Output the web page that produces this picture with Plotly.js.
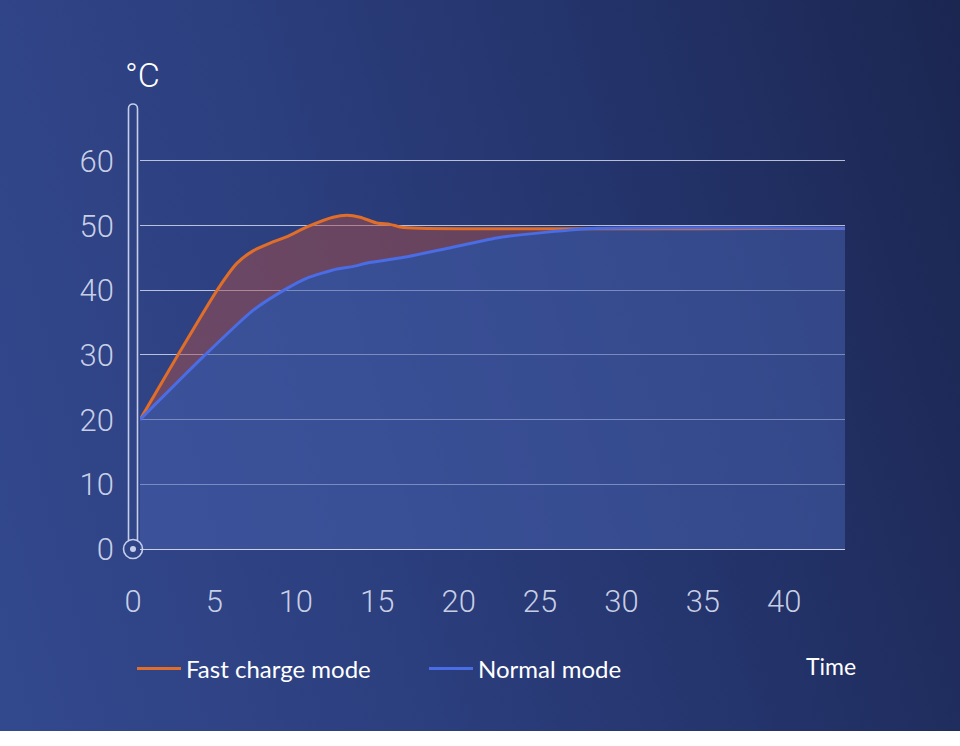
<!DOCTYPE html>
<html>
<head>
<meta charset="utf-8">
<script src="https://cdn.plot.ly/plotly-3.0.1.min.js"></script>
<style>
  html, body { margin: 0; padding: 0; background: #ffffff; }
  #bg { position: absolute; left: 0; top: 0; width: 960px; height: 731px;
        background: linear-gradient(75deg, #33498e 0%, #2c3f7f 35%, #24346c 65%, #1b2651 100%); }
  #chart { position: absolute; left: 0; top: 0; width: 960px; height: 746px; }
</style>
</head>
<body>
<div id="bg"></div>
<div id="chart"></div>
<script>
// ---- data ----
const timeFast   = [0, 2.33, 4.73, 5.96, 6.94, 7.99, 9.03, 10.26, 11.86, 12.72, 13.52, 14.56, 15.36, 15.98, 17.2, 43.3];
const tempFast   = [20, 30, 40, 44.2, 46.1, 47.3, 48.3, 49.8, 51.3, 51.6, 51.3, 50.4, 50.2, 49.8, 49.6, 49.6];
const timeNormal = [0, 3.87, 6.94, 9.03, 10.26, 12.1, 13.1, 14.1, 16.2, 18.9, 21.9, 25.0, 28.1, 43.3];
const tempNormal = [20, 29.7, 36.9, 40.3, 41.9, 43.3, 43.7, 44.3, 45.1, 46.5, 48.1, 49.0, 49.6, 49.6];
const xTicks = [0, 5, 10, 15, 20, 25, 30, 35, 40];
const yTicks = [0, 10, 20, 30, 40, 50, 60];
const seriesNames = ['Fast charge mode', 'Normal mode'];
const unitLabel = '°C';
const xLabel = 'Time';

// ---- layout geometry (pixels) ----
const L = 140, R = 115, T = 150, B = 197, W = 960, H = 746;
const PW = W - L - R, PH = H - T - B;
const X = p => (p - L) / PW;
const Y = p => (H - B - p) / PH;

const orange = '#e06e28', blue = '#4a6ce4';
const tickColor = 'rgba(210,216,236,0.95)';

const traces = [
  { x: timeNormal, y: tempNormal, type: 'scatter', mode: 'lines', fill: 'tozeroy',
    fillcolor: 'rgba(70,95,172,0.55)', line: { width: 0, shape: 'spline', smoothing: 0.6 },
    showlegend: false, hoverinfo: 'skip' },
  { x: timeFast, y: tempFast, type: 'scatter', mode: 'lines', fill: 'tonexty',
    fillcolor: 'rgba(168,78,72,0.5)', line: { width: 0, shape: 'spline', smoothing: 0.6 },
    showlegend: false, hoverinfo: 'skip' },
  { x: timeFast, y: tempFast, type: 'scatter', mode: 'lines', name: seriesNames[0],
    line: { color: orange, width: 3, shape: 'spline', smoothing: 0.6 } },
  { x: timeNormal, y: tempNormal, type: 'scatter', mode: 'lines', name: seriesNames[1],
    line: { color: blue, width: 3, shape: 'spline', smoothing: 0.6 } }
];

const thermoColor = 'rgba(205,214,238,0.95)';
const tubeL = 128.5, tubeR = 137.5, tubeTop = 103.5, cx = 133, cy = 549, cr = 9.5;
const joinY = cy - Math.sqrt(cr * cr - 4.5 * 4.5);
const tubePath = `M${X(tubeL)},${Y(joinY)} L${X(tubeL)},${Y(tubeTop + 5)} ` +
  `C${X(tubeL)},${Y(tubeTop - 1)} ${X(tubeR)},${Y(tubeTop - 1)} ${X(tubeR)},${Y(tubeTop + 5)} ` +
  `L${X(tubeR)},${Y(joinY)}`;

const layout = {
  width: W, height: H,
  margin: { l: L, r: R, t: T, b: B, pad: 0 },
  paper_bgcolor: 'rgba(0,0,0,0)',
  plot_bgcolor: 'rgba(0,0,0,0)',
  showlegend: true,
  font: { family: 'Roboto, "Open Sans", sans-serif', color: tickColor },
  xaxis: {
    range: [0, 43.3], tickvals: xTicks, ticktext: xTicks.map(String),
    showgrid: false, zeroline: false, showline: true, linecolor: 'rgba(220,225,242,0.9)', linewidth: 1.2,
    ticks: '', ticklabelstandoff: 25, ticklabelshift: -7,
    tickfont: { family: 'Roboto, sans-serif', size: 31, color: tickColor, weight: 300 },
    fixedrange: true
  },
  yaxis: {
    range: [0, PH / 6.467], tickvals: yTicks, ticktext: yTicks.map(String),
    showgrid: true, gridcolor: 'rgba(220,225,242,0.8)', gridwidth: 1,
    zeroline: false, showline: false, ticks: '', ticklabelstandoff: 25,
    tickfont: { family: 'Roboto, sans-serif', size: 31, color: tickColor, weight: 300 },
    fixedrange: true
  },
  legend: {
    orientation: 'h', traceorder: 'normal', x: X(132), xanchor: 'left', y: Y(669), yanchor: 'middle',
    bgcolor: 'rgba(0,0,0,0)', borderwidth: 0,
    font: { family: 'Lato, "Open Sans", sans-serif', size: 24, color: '#ffffff' },
    entrywidth: 233, entrywidthmode: 'pixels', itemwidth: 44
  },
  shapes: [
    { type: 'path', xref: 'paper', yref: 'paper', path: tubePath,
      line: { color: thermoColor, width: 1.6 }, layer: 'above' },
    { type: 'circle', xref: 'paper', yref: 'paper',
      x0: X(cx - cr), x1: X(cx + cr), y0: Y(cy + cr), y1: Y(cy - cr),
      line: { color: thermoColor, width: 1.6 }, layer: 'above' },
    { type: 'circle', xref: 'paper', yref: 'paper',
      x0: X(cx - 3), x1: X(cx + 3), y0: Y(cy + 3), y1: Y(cy - 3),
      fillcolor: thermoColor, line: { width: 0 }, layer: 'above' }
  ],
  annotations: [
    { text: unitLabel, xref: 'paper', yref: 'paper', x: X(142), y: Y(75),
      xanchor: 'center', yanchor: 'middle', showarrow: false,
      font: { family: 'Roboto, sans-serif', size: 34, color: '#ffffff', weight: 300 } },
    { text: xLabel, xref: 'paper', yref: 'paper', x: X(831), y: Y(666),
      xanchor: 'center', yanchor: 'middle', showarrow: false,
      font: { family: 'Lato, "Open Sans", sans-serif', size: 23, color: '#ffffff' } }
  ]
};

Plotly.newPlot('chart', traces, layout, { displayModeBar: false, staticPlot: true });
</script>
</body>
</html>
